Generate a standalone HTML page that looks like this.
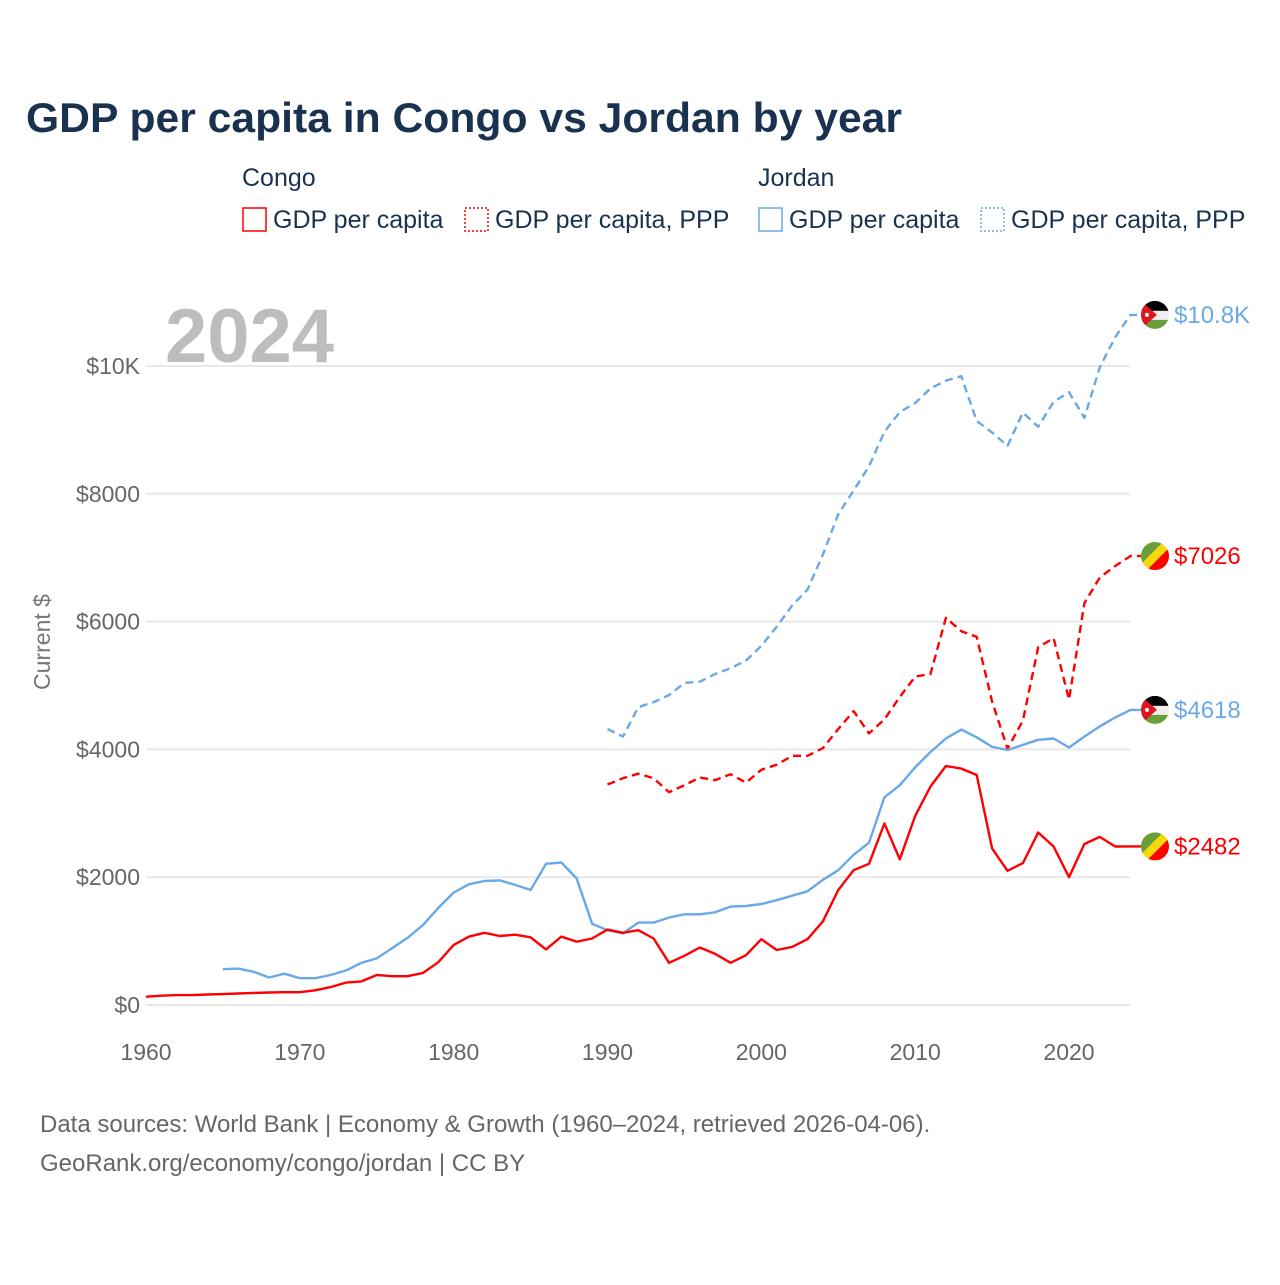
<!DOCTYPE html>
<html><head><meta charset="utf-8"><style>
body{margin:0;background:#fff;font-family:"Liberation Sans",sans-serif}
svg text{font-family:"Liberation Sans",sans-serif}
</style></head><body>
<svg id="chart" width="1280" height="1280" xmlns="http://www.w3.org/2000/svg">
<defs>
<clipPath id="fc"><circle cx="0" cy="0" r="14"/></clipPath>
<g id="flagJ"><g clip-path="url(#fc)"><rect x="-14" y="-14" width="28" height="10" fill="#000"/><rect x="-14" y="-4" width="28" height="9" fill="#eee"/><rect x="-14" y="5" width="28" height="10" fill="#6a9e3a"/><polygon points="-14,-14 2,0 -14,14" fill="#e0141e"/><circle cx="-8" cy="0" r="2" fill="#fff"/></g></g>
<g id="flagC"><g clip-path="url(#fc)"><rect x="-14" y="-14" width="28" height="28" fill="#f5d90a"/><polygon points="-14,-14 8,-14 -14,8" fill="#6a9e3a"/><polygon points="14,14 -8,14 14,-8" fill="#f00"/></g></g>
</defs>
<text x="26" y="132" font-size="42" font-weight="bold" fill="#1a3250" textLength="876" lengthAdjust="spacingAndGlyphs">GDP per capita in Congo vs Jordan by year</text>
<g font-size="25" fill="#1a3250">
<text x="242" y="186">Congo</text>
<text x="758" y="186">Jordan</text>
<g><rect x="243" y="208" width="23" height="23" fill="none" stroke="#f00" stroke-width="1.5"/><text x="273" y="228">GDP per capita</text></g>
<g><rect x="465" y="208" width="23" height="23" fill="none" stroke="#f00" stroke-width="1.5" stroke-dasharray="2,2"/><text x="495" y="228">GDP per capita, PPP</text></g>
<g><rect x="759" y="208" width="23" height="23" fill="none" stroke="#6aa8e6" stroke-width="1.5"/><text x="789" y="228">GDP per capita</text></g>
<g><rect x="981" y="208" width="23" height="23" fill="none" stroke="#6aa8e6" stroke-width="1.5" stroke-dasharray="2,2"/><text x="1011" y="228">GDP per capita, PPP</text></g>
</g>
<text x="165" y="362" font-size="76" font-weight="bold" fill="#bdbdbd">2024</text>
<text transform="translate(50,642) rotate(-90)" text-anchor="middle" font-size="23" fill="#777">Current $</text>
<g id="grid"></g><g id="series"></g><g id="ends"></g>
<text x="40" y="1132" font-size="24" fill="#666">Data sources: World Bank | Economy &amp; Growth (1960–2024, retrieved 2026-04-06).</text>
<text x="40" y="1171" font-size="24" fill="#666">GeoRank.org/economy/congo/jordan | CC BY</text>
</svg>
<script>
const yTicks=[0,2000,4000,6000,8000,10000];
const yTickLabels=["$0","$2000","$4000","$6000","$8000","$10K"];
const xTicks=[1960,1970,1980,1990,2000,2010,2020];
const congoGdpStart=1960;
const congoGdp=[130,145,155,155,165,170,180,190,195,200,200,230,280,350,370,470,450,450,500,670,940,1070,1130,1080,1100,1060,870,1070,990,1040,1180,1130,1170,1040,660,770,900,800,660,780,1030,860,910,1030,1310,1800,2110,2210,2840,2280,2960,3420,3740,3700,3600,2450,2100,2220,2700,2480,2000,2520,2630,2480,2482];
const jordanGdpStart=1965;
const jordanGdp=[560,570,520,430,490,420,420,470,540,660,730,890,1050,1250,1520,1760,1890,1940,1950,1880,1800,2210,2230,1980,1270,1170,1120,1290,1290,1370,1420,1420,1450,1540,1550,1580,1640,1710,1780,1960,2110,2350,2540,3250,3440,3720,3960,4170,4310,4190,4040,3990,4070,4150,4170,4030,4200,4360,4500,4618];
const congoPppStart=1990;
const congoPpp=[3450,3550,3620,3550,3330,3440,3560,3520,3610,3480,3680,3760,3900,3900,4020,4320,4600,4250,4470,4820,5140,5180,6060,5850,5760,4750,4010,4450,5600,5740,4780,6290,6690,6870,7026];
const jordanPppStart=1990;
const jordanPpp=[4320,4200,4660,4740,4850,5040,5060,5180,5270,5390,5620,5920,6250,6500,7050,7680,8050,8430,8970,9280,9420,9650,9770,9840,9140,8960,8750,9270,9050,9440,9590,9190,9980,10450,10800];
const endLabels=["$2482","$4618","$7026","$10.8K"];
const NS="http://www.w3.org/2000/svg";
const x=yr=>146+(yr-1960)*(1069-146)/60;
const y=v=>1005-v*(1005-366)/10000;
function mk(t,a,p){const e=document.createElementNS(NS,t);for(const k in a)e.setAttribute(k,a[k]);p.appendChild(e);return e;}
const grid=document.getElementById('grid');
yTicks.forEach((v,i)=>{
 const l=mk('line',{x1:146,x2:1130,y1:y(v),y2:y(v),stroke:'#e8e8e8','stroke-width':2},grid);
 
 
 const t=mk('text',{x:140,y:y(v)+8,'text-anchor':'end','font-size':23,fill:'#666'},grid);
 t.textContent=yTickLabels[i];
 
 
});
xTicks.forEach(yr=>{
 const t=mk('text',{x:x(yr),y:1060,'text-anchor':'middle','font-size':23,fill:'#666'},grid);
 t.textContent=yr;
 
 
});
const ser=document.getElementById('series');
function line(arr,start,color,dash,name){
 const d=arr.map((v,i)=>(i?'L':'M')+x(start+i).toFixed(1)+','+y(v).toFixed(1)).join('')+'H1142';
 const p=mk('path',{d:d,fill:'none',stroke:color,'stroke-width':2.4,'stroke-linejoin':'round'},ser);
 if(dash)p.setAttribute('stroke-dasharray',dash);
 
 
}
line(jordanPpp,jordanPppStart,'#6aa8e6','8,5','line-jordan-gdp-ppp');
line(congoPpp,congoPppStart,'#f00','8,5','line-congo-gdp-ppp');
line(jordanGdp,jordanGdpStart,'#6aa8e6',null,'line-jordan-gdp');
line(congoGdp,congoGdpStart,'#f00',null,'line-congo-gdp');
const ends=document.getElementById('ends');
const endSets=[[congoGdp,'#f00','flagC'],[jordanGdp,'#6aa8e6','flagJ'],[congoPpp,'#f00','flagC'],[jordanPpp,'#6aa8e6','flagJ']];
endSets.forEach((s,i)=>{
 const v=s[0][s[0].length-1];
 const yy=y(v);
 const u=mk('use',{href:'#'+s[2],x:1155,y:yy},ends);
 
 
 const t=mk('text',{x:1174,y:yy+8,'font-size':24,fill:s[1]},ends);
 t.textContent=endLabels[i];
 
 
});
</script>
</body></html>
